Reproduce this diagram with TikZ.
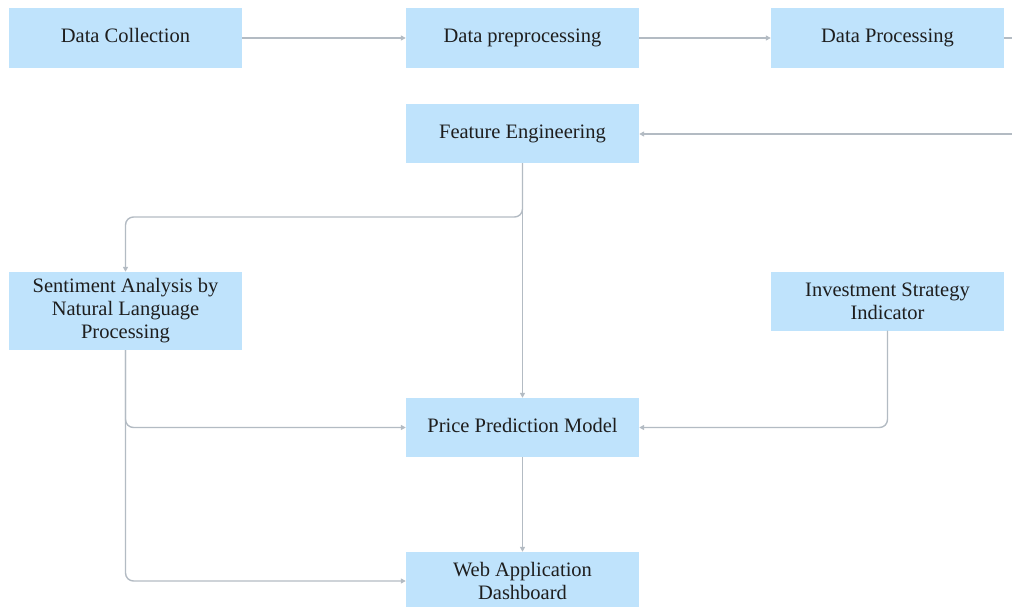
\documentclass[tikz,border=0pt]{standalone}
\usepackage{fontspec}
\setmainfont{Liberation Serif}
\usetikzlibrary{arrows.meta}
\definecolor{boxfill}{HTML}{BFE3FC}
\definecolor{linecol}{HTML}{B3BBC3}
\definecolor{txt}{HTML}{1E1E1E}
\begin{document}
\begin{tikzpicture}[x=1pt,y=-1pt,
  box/.style={fill=boxfill, draw=none, minimum width=233pt, minimum height=60pt,
    align=center, text=txt, inner sep=2pt,
    font=\fontsize{20.5pt}{23pt}\selectfont},
  oneline/.style={text height=14.5pt, text depth=4.5pt},
  conn/.style={draw=linecol, line width=1.4pt, rounded corners=8pt,
    -{Triangle[length=5pt,width=5pt]}},
  plain/.style={draw=linecol, line width=1.4pt}]
\useasboundingbox (0,0) rectangle (1012,607);
\clip (0,0) rectangle (1012,607);
\node[box, oneline] (dc) at (125.5,38) {Data Collection};
\node[box, oneline] (dp) at (522.5,38) {Data preprocessing};
\node[box, oneline] (dpr) at (887.5,38) {Data Processing};
\node[box, oneline, minimum height=59pt] (fe) at (522.5,133.5) {Feature Engineering};
\node[box, minimum height=78pt] (sa) at (125.5,311) {Sentiment Analysis by\\Natural Language\\Processing};
\node[box, minimum height=59pt] (isi) at (887.5,301) {Investment Strategy\\Indicator};
\node[box, oneline, minimum height=59pt] (ppm) at (522.5,427.5) {Price Prediction Model};
\node[box, minimum height=58pt] (wad) at (522.5,581) {Web Application\\Dashboard};
\coordinate (edgeA) at (1012,38);
\coordinate (edgeB) at (1012,134);
\draw[conn] (dc.east) -- (dp.west);
\draw[conn] (dp.east) -- (dpr.west);
\draw[plain] (dpr.east) -- (edgeA);
\draw[conn] (edgeB) -- (fe.east |- edgeB);
\draw[conn] (fe.south) |- (300,217) -| (sa.north);
\draw[conn] (fe.south) -- (ppm.north);
\draw[conn] (sa.south) |- (ppm.west);
\draw[conn] (sa.south) |- (wad.west);
\draw[conn] (isi.south) |- (ppm.east);
\draw[conn] (ppm.south) -- (wad.north);
\end{tikzpicture}
\end{document}
